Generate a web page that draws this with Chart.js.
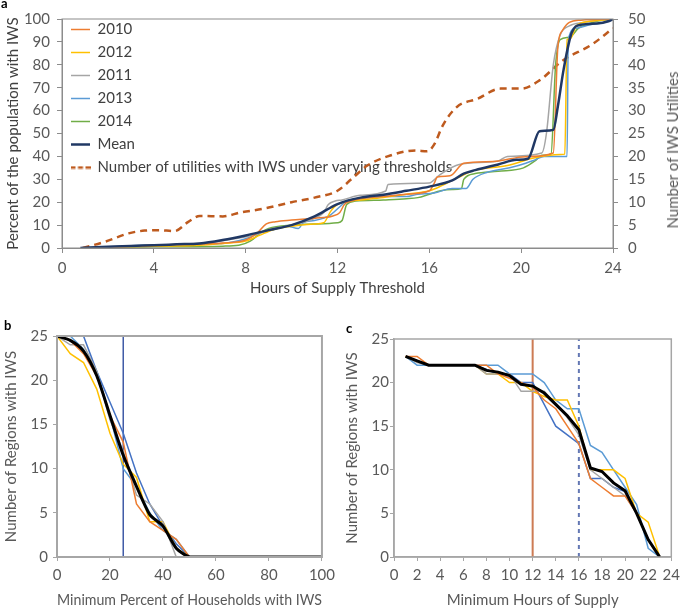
<!DOCTYPE html>
<html><head><meta charset="utf-8">
<script src="https://cdn.jsdelivr.net/npm/chart.js@4.4.0/dist/chart.umd.min.js"></script>
<style>
body{margin:0;width:685px;height:609px;background:#fff;position:relative;overflow:hidden;font-family:Lato,sans-serif}
canvas{position:absolute}
.lbl{position:absolute;font-weight:bold;font-size:13px;color:#000;font-family:Lato,sans-serif;line-height:13px}
.rt{position:absolute;white-space:nowrap;font-size:15px;color:#595959;font-family:Lato,sans-serif;transform:translate(-50%,-50%) rotate(-90deg)}
</style></head><body>
<canvas id="ca" width="685" height="300" style="left:0;top:0"></canvas>
<canvas id="cb" width="340" height="299" style="left:0;top:310px"></canvas>
<canvas id="cc" width="345" height="299" style="left:340px;top:310px"></canvas>
<div class="lbl" style="left:1px;top:-3px">a</div>
<div class="lbl" style="left:4px;top:319px">b</div>
<div class="lbl" style="left:346px;top:322px">c</div>
<div class="rt" style="left:672px;top:150px">Number of IWS Utilities</div>
<script>
// ---------- Panel a: percent of population with IWS vs hours threshold ----------
const pop2010 = [[1.5,0],[3,0.8],[5,1.5],[7,2.2],[8,3.5],[8.5,6.5],[8.9,10.5],[9.3,11.5],[10,12.2],[11,13],[11.8,14],[12.1,15.5],[12.3,19],[12.6,20.5],[13,21.5],[14,22.5],[15,23.5],[16,25],[16.2,28],[16.35,31],[16.9,31.5],[17.5,37],[18.8,37.8],[20.2,39.9],[21.4,41.5],[21.6,88],[21.8,95],[22.1,98.5],[22.6,99.5],[24,100]];
const pop2012 = [[1.5,0],[4,0.8],[6,1.2],[7,2],[8,3],[8.6,5.5],[9.2,8],[10,9.5],[11,10.5],[11.4,11],[11.7,16],[12,19],[12.5,20.5],[13,21],[14,22],[15,23.5],[16,25],[16.5,27],[17.2,30.5],[18,34],[19.4,36],[20.5,39.2],[21.7,40.8],[21.9,41],[22,91],[22.15,91.5],[22.4,97],[23,99],[24,100]];
const pop2011 = [[1.5,0],[3,0.8],[5,1.6],[6.5,2.5],[7.5,4],[8.5,6],[9,8],[10,10],[11,13],[11.4,15.5],[11.6,19],[11.9,20.5],[12.2,21],[13,23],[14.1,24.9],[14.2,27.7],[16,28.4],[16.4,31.5],[17.3,36.5],[19,38],[19.4,40],[20.9,41.5],[21.1,50],[21.4,80],[21.7,93],[22.1,97],[22.7,98.5],[24,100]];
const pop2013 = [[1.5,0],[3,1],[5,1.5],[7,2],[8,4],[8.6,6.5],[9.2,8],[9.8,9.5],[10.3,8.5],[10.5,11],[11,12],[11.7,14.5],[12.1,18],[12.4,20.5],[13,21.5],[14,22.5],[15,22.5],[15.5,23.5],[16.2,24],[17,26],[17.6,26],[17.9,30],[18.5,33],[19.5,35],[20.2,37],[20.6,38.5],[21,40],[22,40],[22.05,91],[22.4,96],[23,97.5],[23.6,98.5],[24,100]];
const pop2014 = [[1.5,0],[4,0.5],[7,0.8],[7.7,1.2],[8.2,3],[8.7,7],[9,8.5],[10,10],[11,10.5],[12,11],[12.2,12],[12.4,19],[12.8,20.5],[14,21],[15,21.5],[15.5,22],[16,23.5],[16.5,25],[17,25.5],[17.4,26],[17.5,30],[18,32.5],[19,33.5],[20.1,35],[20.6,38],[20.9,40.5],[21.3,41],[21.5,80],[21.7,91],[22.1,92],[22.5,96],[23.3,99],[24,100]];
const popMean = [[0.8,0],[2,0.5],[3,0.9],[4,1.2],[5,1.6],[6,2],[7,3.5],[8,5.5],[9,7.8],[10,10],[11,13.8],[12,19.2],[13,22],[14,23.3],[15,25],[16,26.8],[17,29.5],[17.5,32.5],[18,34],[19,36.5],[19.8,38.5],[20.3,39],[20.8,51],[21.4,51.6],[21.6,62],[21.85,78],[22.2,94],[22.6,97.5],[23.3,98],[23.8,99],[24,100]];
const utilities = [[0.9,0],[1.9,1.4],[2.9,3.2],[3.6,3.8],[4.2,3.9],[4.9,3.7],[5.5,5.7],[6,7],[7,6.9],[7.8,7.8],[8.7,8.5],[10,10],[11,11],[12,12.5],[12.6,15],[13.3,18],[14.3,20.2],[15.4,21.3],[15.9,21.1],[16.2,22.5],[16.6,26.9],[17.2,30.8],[18.1,32.6],[19.1,34.8],[20,34.8],[20.8,36.6],[21.8,40.9],[23.1,44.5],[24,48]];
const hourTicksA = {min:0, max:24, step:4};

// ---------- Panel b ----------
const bPercent = [0,5,10,15,20,25,30,35,40,45,50,55,60,65,70,75,80,85,90,95,100];
const b2010 = [25,24.5,23,20.5,16,13,6,4,3,2,0,0,0,0,0,0,0,0,0,0,0];
const b2011 = [25,24,24,21,15.5,12,7,6,4,0,0,0,0,0,0,0,0,0,0,0,0];
const b2012 = [25,23,22,19,14,10.5,9,4,4,1,0,0,0,0,0,0,0,0,0,0,0];
const b2013 = [null,25,23.5,21,16,10,8,5,3,2,0,0,0,0,0,0,0,0,0,0,0];
const b2014 = [null,null,25,21,17.5,14,9.5,6,3.5,1.5,0,0,0,0,0,0,0,0,0,0,0];
const bMean = [25,24.5,23.3,20.5,16,11.5,8,4.8,3.5,1,0,0,0,0,0,0,0,0,0,0,0];
const bThreshold = 25;

// ---------- Panel c ----------
const cHours = [1,2,3,4,5,6,7,8,9,10,11,12,13,14,15,16,17,18,19,20,21,22,23];
const c2010 = [23,23,22,22,22,22,22,22,21,20.5,20,19.5,18,17,15,13,9,8,7,7,5,2,0];
const c2011 = [23,22.3,22,22,22,22,22,21,21,21,19,19,19,17.5,16,14,10,9,8,7,5,2,0];
const c2012 = [23,22.5,22,22,22,22,22,21,21,20,20,19,18.4,18,18,15,10,10,10,9,5,4,0];
const c2013 = [23,22,22,22,22,22,22,22,22,21,21,21,20,18,17,17,12.8,12,10,8,6,1,0];
const c2014 = [23,22.5,22,22,22,22,22,21.5,21,21,20,20,17.5,15,14,13,9,9,8,7.5,5,2,0];
const cMean = [23,22.5,22,22,22,22,22,21.4,21.2,20.8,19.8,19.6,18.8,17.5,16.2,14.6,10.2,9.8,8.5,7.6,5,2,0];
const cThresholdSolid = 12;
const cThresholdDashed = 16;
const regionsMax = 25;

Chart.defaults.font.family = 'Lato, sans-serif';
Chart.defaults.font.size = 15;
Chart.defaults.color = '#595959';
Chart.defaults.animation = false;

const UTIL_COLOR = '#BE5A1E';

// small dashed glyph used as the legend marker of the dashed series
function dashedGlyph(color) {
  const c = document.createElement('canvas');
  c.width = 20; c.height = 4;
  const g = c.getContext('2d');
  g.strokeStyle = color; g.lineWidth = 2.5; g.setLineDash([5, 2.5]);
  g.beginPath(); g.moveTo(0, 2); g.lineTo(20, 2); g.stroke();
  return c;
}

const frame = {
  id: 'frame',
  afterDatasetsDraw(chart, args, opts) {
    const {ctx, chartArea: a} = chart;
    ctx.save();
    ctx.strokeStyle = opts.color || '#A6A6A6';
    ctx.lineWidth = opts.width || 1;
    ctx.strokeRect(a.left, a.top, a.right - a.left, a.bottom - a.top);
    ctx.restore();
  }
};

// moves the built-in legend box to a fixed spot inside the plot area
const legendPos = {
  id: 'legendPos',
  beforeDraw(chart, args, opts) {
    const l = chart.legend;
    if (!l || opts.top === undefined) return;
    const dy = opts.top - l.top, dx = opts.left - l.left;
    l.top += dy; l.bottom += dy; l.left += dx; l.right += dx;
  }
};

const zip = (xs, ys) => xs.map((x, i) => ({x, y: ys[i]}));
const line = (label, data, color, width, extra) => Object.assign({
  label, data, borderColor: color, backgroundColor: color, borderWidth: width,
  pointRadius: 0, fill: false, tension: 0, spanGaps: false, pointStyle: 'line'
}, extra || {});

// Panel a
new Chart(document.getElementById('ca'), {
  type: 'line',
  plugins: [frame, legendPos],
  data: {
    datasets: [
      line('2010', pop2010, '#ED7D31', 1.5, {cubicInterpolationMode: 'monotone'}),
      line('2012', pop2012, '#FFC000', 1.5, {cubicInterpolationMode: 'monotone'}),
      line('2011', pop2011, '#A5A5A5', 1.5, {cubicInterpolationMode: 'monotone'}),
      line('2013', pop2013, '#5B9BD5', 1.5, {cubicInterpolationMode: 'monotone'}),
      line('2014', pop2014, '#70AD47', 1.5, {cubicInterpolationMode: 'monotone'}),
      line('Mean', popMean, '#203864', 2.5, {cubicInterpolationMode: 'monotone', order: -1}),
      line('Number of utilities with IWS under varying thresholds', utilities, UTIL_COLOR, 2.5,
           {cubicInterpolationMode: 'monotone', borderDash: [7, 5], yAxisID: 'y2', pointStyle: dashedGlyph(UTIL_COLOR)})
    ]
  },
  options: {
    responsive: false, devicePixelRatio: 1,
    layout: {padding: {top: 16, left: 0, right: 0, bottom: 0}},
    plugins: {
      frame: {color: '#8C8C8C', width: 1},
      legendPos: {top: 14, left: 63},
      tooltip: {enabled: false},
      legend: {
        position: 'chartArea', align: 'start',
        labels: {
          usePointStyle: true, pointStyleWidth: 19, boxHeight: 15,
          padding: 8, color: '#404040', font: {size: 15},
          sort: (a, b) => a.datasetIndex - b.datasetIndex
        }
      }
    },
    scales: {
      x: {
        type: 'linear', min: hourTicksA.min, max: hourTicksA.max,
        ticks: {stepSize: hourTicksA.step, padding: 6, maxRotation: 0},
        grid: {drawOnChartArea: false, tickLength: 5, color: '#8C8C8C'},
        border: {color: '#8C8C8C'},
        title: {display: true, text: 'Hours of Supply Threshold', color: '#404040', padding: {top: 0, bottom: 3}},
        afterFit: s => { s.height = 52; }
      },
      y: {
        min: 0, max: 100,
        ticks: {stepSize: 10, padding: 7},
        grid: {drawOnChartArea: false, tickLength: 5, color: '#8C8C8C'},
        border: {color: '#8C8C8C'},
        title: {display: true, text: 'Percent of the population with IWS', color: '#404040', padding: {top: 4, bottom: 0}},
        afterFit: s => { s.width = 62; }
      },
      y2: {
        position: 'right', min: 0, max: 50,
        ticks: {stepSize: 5, padding: 10},
        grid: {drawOnChartArea: false, tickLength: 5, color: '#8C8C8C'},
        border: {color: '#8C8C8C'},
        afterFit: s => { s.width = 72; }
      }
    }
  }
});

// Panel b
new Chart(document.getElementById('cb'), {
  type: 'line',
  plugins: [frame],
  data: {
    datasets: [
      line('Mean', zip(bPercent, bMean), '#000000', 3, {tension: 0.25}),
      line('2010', zip(bPercent, b2010), '#ED7D31', 1.5),
      line('2011', zip(bPercent, b2011), '#A5A5A5', 1.5),
      line('2012', zip(bPercent, b2012), '#FFC000', 1.5),
      line('2013', zip(bPercent, b2013), '#5B9BD5', 1.5),
      line('2014', zip(bPercent, b2014), '#4472C4', 1.5),
      line('Threshold', [{x: bThreshold, y: 0}, {x: bThreshold, y: regionsMax}], '#3F5AA6', 1.5)
    ]
  },
  options: {
    responsive: false, devicePixelRatio: 1,
    layout: {padding: {top: 26, left: 0, right: 14, bottom: 0}},
    plugins: {legend: {display: false}, tooltip: {enabled: false}, frame: {color: '#A6A6A6', width: 2}},
    scales: {
      x: {
        type: 'linear', min: 0, max: 100,
        ticks: {stepSize: 20, padding: 5, maxRotation: 0},
        grid: {drawOnChartArea: false, tickLength: 4, color: '#A6A6A6'},
        border: {color: '#A6A6A6', width: 2},
        title: {display: true, text: 'Minimum Percent of Households with IWS', padding: {top: 0, bottom: 0}},
        afterFit: s => { s.height = 52; }
      },
      y: {
        min: 0, max: regionsMax,
        ticks: {stepSize: 5, padding: 5},
        grid: {drawOnChartArea: false, tickLength: 4, color: '#A6A6A6'},
        border: {color: '#A6A6A6', width: 2},
        title: {display: true, text: 'Number of Regions with IWS', padding: {top: 2, bottom: 0}},
        afterFit: s => { s.width = 57; }
      }
    }
  }
});

// Panel c
new Chart(document.getElementById('cc'), {
  type: 'line',
  plugins: [frame],
  data: {
    datasets: [
      line('Mean', zip(cHours, cMean), '#000000', 3),
      line('2010', zip(cHours, c2010), '#ED7D31', 1.5),
      line('2011', zip(cHours, c2011), '#A5A5A5', 1.5),
      line('2012', zip(cHours, c2012), '#FFC000', 1.5),
      line('2013', zip(cHours, c2013), '#5B9BD5', 1.5),
      line('2014', zip(cHours, c2014), '#4472C4', 1.5),
      line('Threshold 12', [{x: cThresholdSolid, y: 0}, {x: cThresholdSolid, y: regionsMax}], '#CD7B54', 2),
      line('Threshold 16', [{x: cThresholdDashed, y: 0}, {x: cThresholdDashed, y: regionsMax}], '#6478B4', 2, {borderDash: [4, 4]})
    ]
  },
  options: {
    responsive: false, devicePixelRatio: 1,
    layout: {padding: {top: 29, left: 0, right: 8, bottom: 0}},
    plugins: {legend: {display: false}, tooltip: {enabled: false}, frame: {color: '#A6A6A6', width: 1.5}},
    scales: {
      x: {
        type: 'linear', min: 0, max: 24,
        ticks: {stepSize: 2, padding: 5, maxRotation: 0, autoSkip: false},
        grid: {drawOnChartArea: false, tickLength: 4, color: '#A6A6A6'},
        border: {color: '#A6A6A6', width: 1.5},
        title: {display: true, text: 'Minimum Hours of Supply', padding: {top: 0, bottom: 0}},
        afterFit: s => { s.height = 52; }
      },
      y: {
        min: 0, max: regionsMax,
        ticks: {stepSize: 5, padding: 1},
        grid: {drawOnChartArea: false, tickLength: 4, color: '#A6A6A6'},
        border: {color: '#A6A6A6', width: 1.5},
        title: {display: true, text: 'Number of Regions with IWS', padding: {top: 3, bottom: 0}},
        afterFit: s => { s.width = 54; }
      }
    }
  }
});
</script>
</body></html>
